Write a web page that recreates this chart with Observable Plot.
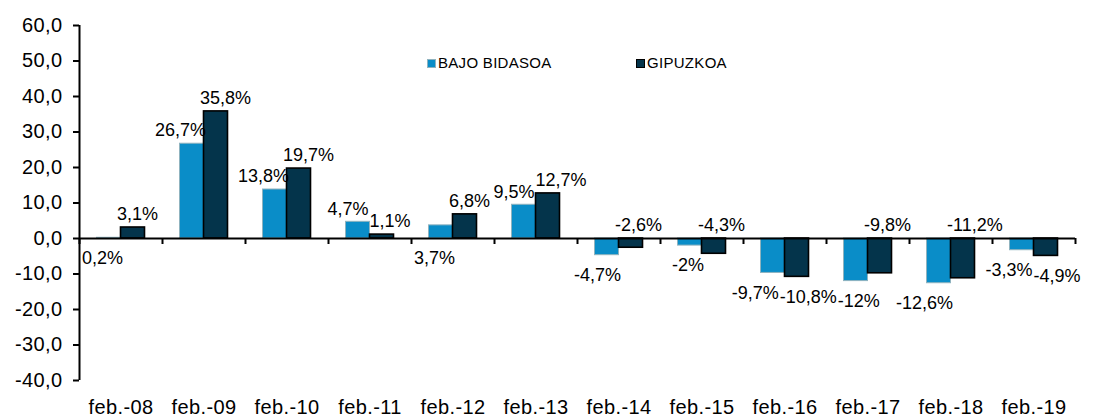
<!DOCTYPE html>
<html>
<head>
<meta charset="utf-8">
<script src="https://cdn.jsdelivr.net/npm/d3@7"></script>
<script src="https://cdn.jsdelivr.net/npm/@observablehq/plot@0.6"></script>
<style>
  body { margin: 0; background: #fff; }
  #wrap { position: relative; width: 1098px; height: 416px; font-family: "Liberation Sans", Arial, sans-serif; color: #000; }
  .leg { position: absolute; top: 56px; height: 14px; display: flex; align-items: center; font-size: 15px; letter-spacing: 0.3px; line-height: 14px; white-space: nowrap; }
  .sw { width: 9px; height: 9px; margin-right: 2px; box-sizing: border-box; }
  svg g[aria-label="y-axis tick label"] text { letter-spacing: 0.4px; }
  svg g[aria-label="x-axis tick label"] text { letter-spacing: 0.4px; }
</style>
</head>
<body>
<div id="wrap"></div>
<script>
// ---- data ----
const categories = ["feb.-08","feb.-09","feb.-10","feb.-11","feb.-12","feb.-13","feb.-14","feb.-15","feb.-16","feb.-17","feb.-18","feb.-19"];
const seriesNames = ["BAJO BIDASOA", "GIPUZKOA"];
const bajoBidasoa = [0.2, 26.7, 13.8, 4.7, 3.7, 9.5, -4.7, -2, -9.7, -12, -12.6, -3.3];
const gipuzkoa = [3.1, 35.8, 19.7, 1.1, 6.8, 12.7, -2.6, -4.3, -10.8, -9.8, -11.2, -4.9];
// where each data label sits: at the bar's outer "end" or at its "base" (zero line)
const bajoLabelSide = ["base","end","end","end","base","end","end","end","end","end","end","end"];
const gipLabelSide = ["end","end","end","end","end","end","base","base","end","base","base","end"];
const yTicks = [-40, -30, -20, -10, 0, 10, 20, 30, 40, 50, 60];
const colors = ["#0a8dc8", "#04344b"];

// ---- layout ----
const W = 1098, H = 416, mL = 79, mR = 23, mT = 25, mB = 36;
const half = (W - mL - mR) / categories.length / 2;
const barW = 24;

const bajoRows = categories.map((c, i) => ({cat: c, value: bajoBidasoa[i], side: bajoLabelSide[i]}));
const gipRows = categories.map((c, i) => ({cat: c, value: gipuzkoa[i], side: gipLabelSide[i]}));

const fmtPct = v => String(v).replace(".", ",") + "%";
const fmtTick = v => v.toFixed(1).replace(".", ",");
const above = d => (d.side === "end") === (d.value >= 0);
const labelY = d => d.side === "end" ? d.value : 0;

const textOpts = {fontSize: 18, fill: "#000"};

const chart = Plot.plot({
  width: W, height: H,
  marginLeft: mL, marginRight: mR, marginTop: mT, marginBottom: mB,
  style: {fontFamily: '"Liberation Sans", Arial, sans-serif', fontSize: "20px", color: "#000", background: "transparent", overflow: "visible"},
  x: {domain: categories, padding: 0, label: null},
  y: {domain: [-40, 60], label: null},
  marks: [
    Plot.barY(bajoRows, {x: "cat", y: "value", fill: colors[0], stroke: "#8fb3bf", strokeWidth: 1,
      insetLeft: half - barW, insetRight: half}),
    Plot.barY(gipRows, {x: "cat", y: "value", fill: colors[1], stroke: "#000", strokeWidth: 1.6,
      insetLeft: half, insetRight: half - barW}),
    Plot.ruleY([0], {stroke: "#000", strokeWidth: 2}),
    // y axis line
    Plot.ruleX([categories[0]], {x: d => d, dx: -half, y1: -40, y2: 60, stroke: "#000", strokeWidth: 2}),
    // category boundary ticks on the zero line
    Plot.ruleX(categories, {x: d => d, dx: -half, y1: 0, y2: 0, insetBottom: -6, stroke: "#000", strokeWidth: 2}),
    Plot.ruleX([categories[categories.length - 1]], {x: d => d, dx: half, y1: 0, y2: 0, insetBottom: -6, stroke: "#000", strokeWidth: 2}),
    Plot.axisY(yTicks, {tickFormat: fmtTick, tickSize: 6, tickPadding: 11, strokeWidth: 2, fontSize: 20, label: null}),
    Plot.axisX({tickSize: 0, tickPadding: 19, fontSize: 20, label: null}),
    // data labels
    Plot.text(bajoRows.filter(above), {x: "cat", y: labelY, text: d => fmtPct(d.value), textAnchor: "end", dx: 2, dy: -13, ...textOpts}),
    Plot.text(bajoRows.filter(d => !above(d)), {x: "cat", y: labelY, text: d => fmtPct(d.value), textAnchor: "end", dx: 2, dy: 20, ...textOpts}),
    Plot.text(gipRows.filter(above), {x: "cat", y: labelY, text: d => fmtPct(d.value), textAnchor: "start", dx: -4, dy: -13, ...textOpts}),
    Plot.text(gipRows.filter(d => !above(d)), {x: "cat", y: labelY, text: d => fmtPct(d.value), textAnchor: "start", dx: -4, dy: 20, ...textOpts})
  ]
});

const wrap = document.getElementById("wrap");
wrap.appendChild(chart);

// resolve overlapping data labels by pushing neighbours apart horizontally
(function resolveLabels() {
  const texts = Array.from(chart.querySelectorAll('g[aria-label="text"] text'));
  const boxes = texts.map(t => {
    const r = t.getBoundingClientRect();
    return {t, x1: r.left, x2: r.right, cy: (r.top + r.bottom) / 2, s: 0};
  });
  const gap = 1;
  for (let iter = 0; iter < 40; iter++) {
    let moved = false;
    for (let i = 0; i < boxes.length; i++) {
      for (let j = i + 1; j < boxes.length; j++) {
        const a = boxes[i], b = boxes[j];
        if (Math.abs(a.cy - b.cy) >= 14) continue;
        const [L, R] = (a.x1 + a.x2 + 2 * a.s) <= (b.x1 + b.x2 + 2 * b.s) ? [a, b] : [b, a];
        const ov = (L.x2 + L.s) - (R.x1 + R.s) + gap;
        if (ov > 0.1) { L.s -= ov / 2; R.s += ov / 2; moved = true; }
      }
    }
    if (!moved) break;
  }
  boxes.forEach(b => { if (b.s) b.t.setAttribute("dx", b.s.toFixed(1)); });
})();

// legend
const legendPos = [427, 636];
const legendStroke = ["#8fb3bf", "#000"];
seriesNames.forEach((name, i) => {
  const item = document.createElement("div");
  item.className = "leg";
  item.style.left = legendPos[i] + "px";
  const sw = document.createElement("span");
  sw.className = "sw";
  sw.style.background = colors[i];
  sw.style.border = (i === 0 ? "1px solid " : "1.5px solid ") + legendStroke[i];
  const t = document.createElement("span");
  t.textContent = name;
  item.appendChild(sw);
  item.appendChild(t);
  wrap.appendChild(item);
});
</script>
</body>
</html>
